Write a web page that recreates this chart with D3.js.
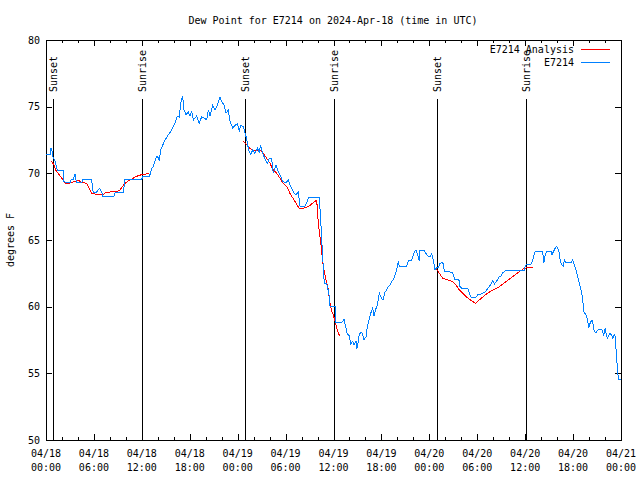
<!DOCTYPE html>
<html><head><meta charset="utf-8">
<script src="https://cdn.jsdelivr.net/npm/d3@7"></script>
<style>
body{margin:0;background:#fff;}
svg text{font-family:"DejaVu Sans Mono","Liberation Mono",monospace;font-size:10px;fill:#000;}
</style></head>
<body><svg id="c" width="640" height="480"></svg>
<script>
const titleText = "Dew Point for E7214 on 2024-Apr-18 (time in UTC)";
const yLabel = "degrees F";
const startUTC = Date.UTC(2024, 3, 18, 0, 0);
const endUTC = Date.UTC(2024, 3, 21, 0, 0);
const yTicks = [50, 55, 60, 65, 70, 75, 80];
const seriesNames = ["E7214 Analysis", "E7214"];
const seriesColors = ["#ff0000", "#0080ff"];
const eventNames = ["Sunset", "Sunrise", "Sunset", "Sunrise", "Sunset", "Sunrise"];
const eventHours = [0.91, 12.06, 24.96, 36.1, 49.0, 60.07];

// observed dew point: [hours since 04/18 00:00 UTC, degF]
const observed = [[0,71.4],[0.55,71.4],[0.62,71.9],[0.71,71.9],[0.8,71.4],[0.91,71.2],[1.13,70.9],[1.3,70.5],[1.41,70.25],[2.17,70.25],[2.25,69.4],[2.5,69.3],[3.0,69.3],[3.09,69.5],[3.42,69.55],[3.63,69.95],[3.73,69.55],[3.84,69.3],[4.47,69.3],[4.6,69.55],[5.72,69.55],[5.8,69.0],[5.92,68.6],[6.35,68.6],[6.55,68.8],[6.76,68.85],[6.97,68.6],[7.1,68.3],[8.51,68.3],[8.64,68.55],[9.68,68.55],[9.89,69.55],[11.98,69.55],[12.11,69.75],[12.94,69.75],[13.02,69.9],[13.24,70.4],[13.44,70.5],[13.65,70.95],[13.86,71.25],[14.06,71.2],[14.19,70.95],[14.36,71.75],[14.61,72.1],[14.9,72.5],[15.32,72.9],[15.74,73.25],[16.15,73.75],[16.44,74.3],[16.7,74.2],[16.86,75.25],[17.11,75.8],[17.28,74.75],[17.53,74.4],[17.82,74.6],[18.03,74.3],[18.24,74.7],[18.45,74.0],[18.87,74.3],[19.2,73.75],[19.49,74.25],[19.91,74.1],[20.12,74.0],[20.33,74.75],[20.54,74.3],[20.87,75.1],[21.16,74.75],[21.45,75.1],[21.79,75.7],[22.0,75.4],[22.29,75.1],[22.54,74.5],[22.83,74.75],[23.04,73.9],[23.38,73.4],[23.67,73.6],[23.96,73.7],[24.2,73.2],[24.38,73.6],[24.71,73.5],[24.92,73.0],[25.13,72.6],[25.26,72.1],[25.46,71.6],[25.63,71.4],[25.88,71.75],[26.17,71.5],[26.46,71.9],[26.7,71.6],[26.88,72.1],[27.13,71.5],[27.42,71.1],[27.71,70.75],[27.96,71.1],[28.26,71.1],[28.46,70.0],[28.8,70.6],[29.09,70.1],[29.39,69.75],[29.64,69.4],[30.05,69.3],[30.34,69.5],[30.64,69.0],[30.97,68.6],[31.27,68.4],[31.59,68.6],[31.81,67.55],[32.43,67.55],[32.72,67.9],[32.85,68.2],[34.22,68.2],[34.4,66.5],[34.52,65.0],[34.65,63.8],[34.72,62.9],[34.85,61.75],[35.15,61.7],[35.35,61.2],[35.47,60.75],[35.56,60.05],[36.23,60.0],[36.28,58.8],[37.03,58.8],[37.32,59.05],[37.53,58.5],[37.73,57.95],[37.98,57.8],[38.15,57.2],[38.4,57.4],[38.57,57.15],[38.82,57.4],[38.9,56.8],[39.11,57.35],[39.23,58.0],[39.53,58.05],[39.66,57.9],[39.82,57.5],[40.07,57.75],[40.23,58.5],[40.48,59.1],[40.66,59.5],[40.91,59.9],[41.07,59.3],[41.29,59.8],[41.49,60.15],[41.74,61.0],[42.04,60.6],[42.2,60.5],[42.45,61.1],[42.66,61.25],[42.86,61.5],[43.08,61.6],[43.29,61.9],[43.49,62.0],[43.7,62.4],[43.91,62.75],[44.11,63.4],[44.24,63.05],[45.17,63.05],[45.37,63.45],[45.79,63.45],[45.92,63.75],[46.12,64.1],[46.33,64.25],[46.49,64.0],[46.74,63.4],[46.83,64.25],[47.33,64.25],[47.58,64.0],[47.8,63.8],[48.08,63.75],[48.3,64.0],[48.5,63.5],[48.71,62.75],[48.92,62.95],[49.09,62.9],[49.34,63.25],[49.59,63.3],[49.75,63.2],[49.88,62.63],[50.5,62.63],[50.84,62.55],[51.0,62.4],[51.18,62.05],[51.59,62.05],[51.75,61.95],[51.84,61.5],[52.09,61.38],[52.8,61.38],[52.93,61.13],[53.22,60.7],[53.84,60.7],[54.05,60.88],[54.47,60.95],[55.01,61.1],[55.31,61.38],[55.51,61.5],[55.72,61.7],[55.93,61.95],[56.14,61.7],[56.35,61.85],[56.56,62.05],[56.76,62.25],[56.97,62.3],[57.18,62.55],[57.39,62.63],[57.68,62.75],[59.89,62.75],[60.02,63.05],[60.19,63.2],[60.73,63.2],[60.95,63.5],[61.15,64.0],[61.27,64.13],[62.2,64.13],[62.32,63.25],[62.52,63.9],[62.73,64.13],[63.24,64.13],[63.36,63.9],[63.65,64.25],[63.86,64.5],[64.07,64.45],[64.27,64.0],[64.4,63.4],[64.61,63.13],[64.78,63.05],[64.9,63.5],[65.11,63.3],[65.74,63.3],[65.95,63.55],[66.15,63.1],[66.37,62.75],[66.58,62.25],[66.78,61.75],[66.99,61.25],[67.2,60.63],[67.33,59.63],[67.62,59.38],[67.83,59.0],[67.95,58.38],[68.15,58.8],[68.37,59.0],[68.49,58.7],[68.66,58.13],[68.87,58.05],[69.08,58.25],[69.37,58.3],[69.62,58.25],[69.83,57.88],[70.03,58.38],[70.2,57.8],[70.33,57.63],[70.46,57.85],[70.62,58.0],[70.83,57.85],[70.96,57.63],[71.16,57.88],[71.25,57.8],[71.37,56.88],[71.5,55.75],[71.59,55.0],[71.71,54.55],[72.0,54.55]];

// analysis, one array per night
const analysisNight1 = [[0.66,70.93],[1.0,70.63],[1.21,70.25],[1.84,69.75],[2.46,69.25],[2.88,69.25],[3.51,69.38],[4.13,69.45],[4.55,69.3],[5.09,69.25],[5.38,68.88],[5.72,68.5],[6.22,68.43],[7.05,68.38],[7.47,68.55],[8.3,68.63],[8.93,68.65],[9.27,68.75],[9.77,69.18],[10.18,69.38],[10.68,69.55],[11.23,69.75],[11.86,69.88],[12.48,69.95],[12.9,70.0]];
const analysisNight2 = [[24.7,72.4],[25.17,72.13],[25.54,71.88],[25.92,71.7],[26.8,71.75],[27.21,71.5],[27.64,71.13],[28.05,70.75],[28.46,70.25],[28.89,70.0],[29.3,69.63],[29.71,69.25],[30.14,69.0],[30.55,68.5],[31.18,67.88],[31.68,67.38],[32.22,67.38],[32.85,67.5],[33.9,68.0],[34.02,66.88],[34.15,66.0],[34.31,65.25],[34.44,64.63],[34.56,63.88],[34.72,63.0],[34.9,62.5],[35.06,62.0],[35.22,61.63],[35.35,61.25],[35.47,60.63],[35.65,60.0],[35.81,59.63],[35.98,59.38],[36.15,59.0],[36.31,58.63],[36.48,58.25],[36.65,57.95],[36.81,57.83]];
const analysisNight3 = [[48.84,62.88],[49.25,62.5],[49.67,62.13],[50.3,62.0],[50.93,61.88],[51.34,61.63],[51.75,61.25],[52.38,60.88],[53.01,60.55],[53.76,60.25],[54.26,60.5],[55.1,60.93],[55.93,61.25],[56.76,61.5],[57.6,61.88],[58.44,62.25],[59.27,62.63],[59.89,62.88],[60.52,62.95],[60.95,62.95]];

const M = {left: 46, right: 621, top: 40, bottom: 440};
const svg = d3.select("#c");
const toDate = h => new Date(startUTC + h * 3600e3);
const x = d3.scaleUtc().domain([new Date(startUTC), new Date(endUTC)]).range([M.left, M.right]);
const y = d3.scaleLinear().domain([50, 80]).range([M.bottom, M.top]);

// title
svg.append("text").attr("x", 333).attr("y", 23.5).attr("text-anchor", "middle").text(titleText);
svg.append("text").attr("transform", "translate(10,240) rotate(-90)").attr("text-anchor", "middle")
  .attr("dy", "0.35em").text(yLabel);

const g = svg.append("g").attr("shape-rendering", "crispEdges");
// border
g.append("rect").attr("x", M.left + 0.5).attr("y", M.top + 0.5)
  .attr("width", M.right - M.left).attr("height", M.bottom - M.top)
  .attr("fill", "none").attr("stroke", "#000");

// x ticks
const major = d3.utcHour.every(6).range(new Date(startUTC), new Date(endUTC + 1));
const minor = d3.utcHour.every(2).range(new Date(startUTC), new Date(endUTC + 1));
minor.forEach(d => {
  const isMajor = d.getUTCHours() % 6 === 0;
  const L = isMajor ? 6 : 3;
  const px = Math.round(x(d)) + 0.5;
  g.append("line").attr("x1", px).attr("x2", px).attr("y1", M.bottom).attr("y2", M.bottom - L).attr("stroke", "#000");
  g.append("line").attr("x1", px).attr("x2", px).attr("y1", M.top).attr("y2", M.top + L).attr("stroke", "#000");
});
const fDate = d3.utcFormat("%m/%d"), fTime = d3.utcFormat("%H:%M");
major.forEach(d => {
  svg.append("text").attr("x", x(d)).attr("y", 457).attr("text-anchor", "middle").text(fDate(d));
  svg.append("text").attr("x", x(d)).attr("y", 471).attr("text-anchor", "middle").text(fTime(d));
});
// y ticks
yTicks.forEach(v => {
  const py = Math.round(y(v)) + 0.5;
  g.append("line").attr("x1", M.left).attr("x2", M.left + 6).attr("y1", py).attr("y2", py).attr("stroke", "#000");
  g.append("line").attr("x1", M.right - 6).attr("x2", M.right).attr("y1", py).attr("y2", py).attr("stroke", "#000");
  svg.append("text").attr("x", 40).attr("y", y(v)).attr("dy", "0.35em").attr("text-anchor", "end").text(v);
});

// sunrise/sunset markers
eventHours.forEach((h, i) => {
  const px = Math.round(x(toDate(h))) + 0.5;
  g.append("line").attr("x1", px).attr("x2", px).attr("y1", 99).attr("y2", M.bottom).attr("stroke", "#000");
  svg.append("text").attr("transform", `translate(${px},92) rotate(-90)`).attr("dy", "0.35em")
    .attr("text-anchor", "start").text(eventNames[i]);
});

const line = d3.line().x(d => x(toDate(d[0]))).y(d => y(d[1]));
const lg = svg.append("g").attr("fill", "none").attr("stroke-width", 1).attr("shape-rendering", "crispEdges");
[analysisNight1, analysisNight2, analysisNight3].forEach(seg => {
  lg.append("path").datum(seg).attr("d", line).attr("stroke", seriesColors[0]);
});
lg.append("path").datum(observed).attr("d", line).attr("stroke", seriesColors[1]);

// legend
seriesNames.forEach((n, i) => {
  const ly = 49.5 + i * 13;
  svg.append("text").attr("x", 574).attr("y", ly).attr("dy", "0.35em").attr("text-anchor", "end").text(n);
  g.append("line").attr("x1", 581).attr("x2", 610).attr("y1", ly).attr("y2", ly).attr("stroke", seriesColors[i]);
});
</script></body></html>
